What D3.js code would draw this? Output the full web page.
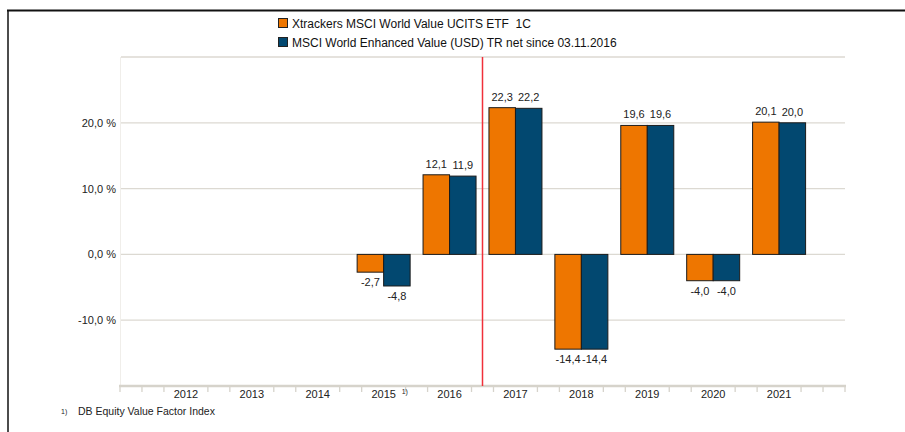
<!DOCTYPE html>
<html><head><meta charset="utf-8">
<script src="https://cdn.jsdelivr.net/npm/d3@7"></script>
<style>body{margin:0;background:#fff}svg{display:block}text{font-family:"Liberation Sans",Arial,sans-serif;white-space:pre}</style>
</head><body><svg id="c" width="905" height="432"></svg>
<script>
const years = ["2012","2013","2014","2015","2016","2017","2018","2019","2020","2021"];
const seriesNames = ["Xtrackers MSCI World Value UCITS ETF  1C","MSCI World Enhanced Value (USD) TR net since 03.11.2016"];
const etf   = [null,null,null,-2.7,12.1,22.3,-14.4,19.6,-4.0,20.1];
const index = [null,null,null,-4.8,11.9,22.2,-14.4,19.6,-4.0,20.0];
const gridTicks = [30,20,10,0,-10];
const labelTicks = [20,10,0,-10];
const colors = ["#EE7600","#024870"];
const footnote = "DB Equity Value Factor Index";
const footnoteYear = "2015";
const splitBetween = ["2016","2017"];

const svg = d3.select("#c");
const fmt = v => v.toFixed(1).replace(".", ",");

const x = d3.scaleBand().domain(years).range([120,845]).paddingInner(0).paddingOuter(0.5);
const y = d3.scaleLinear().domain([-20,30]).range([386,57]);
const xs = d3.scaleBand().domain([0,1]).range([0,53]);

// frame
svg.append("line").attr("x1",7).attr("x2",905).attr("y1",10.5).attr("y2",10.5).attr("stroke","#111").attr("stroke-width",2);
svg.append("line").attr("x1",8).attr("x2",8).attr("y1",10).attr("y2",432).attr("stroke","#111").attr("stroke-width",1.5);

// gridlines
svg.append("line").attr("x1",120.5).attr("x2",120.5).attr("y1",57).attr("y2",386).attr("stroke","#f0eeea");
svg.selectAll(".grid").data(gridTicks).join("line")
  .attr("x1",121).attr("x2",845).attr("y1",d=>y(d)).attr("y2",d=>y(d))
  .attr("stroke","#dcd9d2").attr("stroke-width",1.3);
svg.selectAll(".yl").data(labelTicks).join("text")
  .attr("x",116).attr("y",d=>y(d)+4).attr("text-anchor","end")
  .attr("font-size",11).attr("fill","#222").text(d=>fmt(d)+" %");

// x axis
const step = x.step()/3;
const tickIdx = d3.range(0,34).filter(i => i%3!==0 || i===0 || i===33);
svg.selectAll(".xt").data(tickIdx).join("line")
  .attr("x1",i=>120+i*step).attr("x2",i=>120+i*step).attr("y1",386).attr("y2",392)
  .attr("stroke","#d6d3cb").attr("stroke-width",1.3);
svg.append("line").attr("x1",119).attr("x2",846).attr("y1",386).attr("y2",386).attr("stroke","#d6d3cb").attr("stroke-width",2.5);
svg.selectAll(".xl").data(years).join("text")
  .attr("x",d=>x(d)+x.bandwidth()/2).attr("y",398).attr("text-anchor","middle")
  .attr("font-size",11).attr("fill","#222").text(d=>d);
svg.append("text").attr("x",x(footnoteYear)+x.bandwidth()/2+18).attr("y",394).attr("font-size",7).attr("fill","#222").text("1)");

// bars
const data = [];
years.forEach((yr,i)=>{ [etf[i],index[i]].forEach((v,s)=>{ if(v!==null) data.push({yr,s,v}); }); });
const gx = d => x(d.yr) + (x.bandwidth()-53)/2 + xs(d.s);
svg.selectAll(".bar").data(data).join("rect")
  .attr("x",gx).attr("width",xs.bandwidth())
  .attr("y",d=>y(Math.max(0,d.v))).attr("height",d=>Math.abs(y(d.v)-y(0)))
  .attr("fill",d=>colors[d.s]).attr("stroke","#1b1b1b").attr("stroke-width",1);
svg.selectAll(".vl").data(data).join("text")
  .attr("x",d=>gx(d)+xs.bandwidth()/2).attr("y",d=>d.v>=0? y(d.v)-7 : y(d.v)+14)
  .attr("text-anchor","middle").attr("font-size",11).attr("fill","#222").text(d=>fmt(d.v));

// red separator
const sx = (x(splitBetween[0])+x.bandwidth()+x(splitBetween[1]))/2;
svg.append("line").attr("x1",sx).attr("x2",sx).attr("y1",57).attr("y2",386).attr("stroke","#f0303a").attr("stroke-width",1.5);

// legend
seriesNames.forEach((n,i)=>{
  const ly = 18 + i*19;
  svg.append("rect").attr("x",278.5).attr("y",ly+0.5).attr("width",9).attr("height",9).attr("fill",colors[i]).attr("stroke","#222").attr("stroke-width",1);
  svg.append("text").attr("x",292).attr("y",ly+9.5).attr("font-size",12).attr("fill","#111").attr("xml:space","preserve").text(n);
});

// footnote
svg.append("text").attr("x",61).attr("y",414).attr("font-size",7).attr("fill","#222").text("1)");
svg.append("text").attr("x",78).attr("y",415).attr("font-size",10.5).attr("fill","#222").text(footnote);
</script></body></html>
